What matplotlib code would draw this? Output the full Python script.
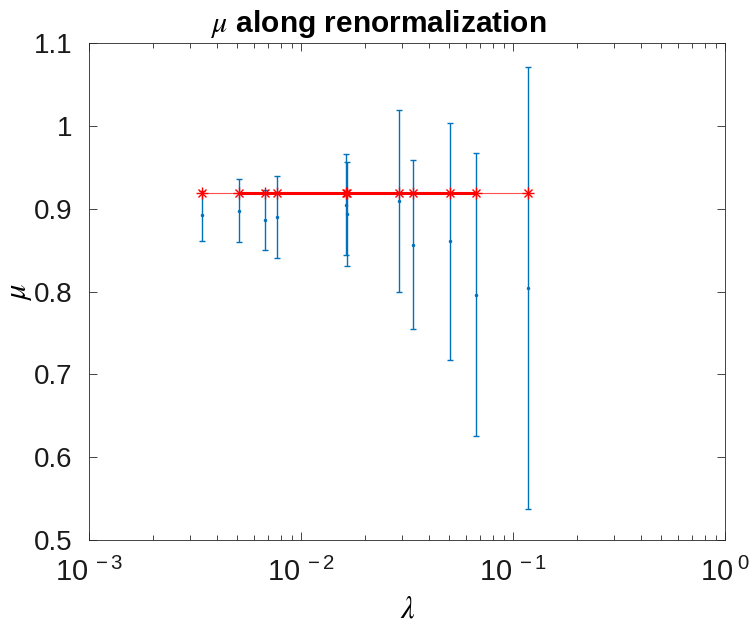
import matplotlib.pyplot as plt
import numpy as np
from matplotlib.ticker import FuncFormatter, LogLocator, NullFormatter

plt.rcParams['font.family'] = ['Liberation Sans', 'DejaVu Sans']
plt.rcParams['mathtext.fontset'] = 'stix'

# data
lam = [0.00341, 0.00510, 0.00674, 0.00771, 0.01620, 0.01643,
       0.0289, 0.0336, 0.0504, 0.0665, 0.1178]
mu_mean = [0.892, 0.898, 0.886, 0.890, 0.905, 0.894,
           0.910, 0.856, 0.861, 0.796, 0.805]
mu_low = [0.861, 0.860, 0.850, 0.841, 0.844, 0.831,
          0.800, 0.755, 0.718, 0.626, 0.538]
mu_high = [0.921, 0.936, 0.923, 0.940, 0.966, 0.957,
           1.019, 0.959, 1.004, 0.967, 1.071]
mu_ref = [0.919] * len(lam)

lam = np.array(lam)
mean = np.array(mu_mean)
err = [mean - np.array(mu_low), np.array(mu_high) - mean]


def xfmt(v, p):
    e = int(round(np.log10(v)))
    return r'$\mathregular{10^{\ %d}}$' % e


fig = plt.figure(figsize=(7.51, 6.27), dpi=100)
ax = fig.add_axes([0.1189, 0.1388, 0.8469, 0.7921])

ax.errorbar(lam, mean, yerr=err, fmt='.', color='#0072BD', ecolor='#0072BD',
            elinewidth=1.0, capsize=2.5, capthick=1.0, markersize=3)

ax.plot(lam, mu_ref, '-', color='#ff5050', lw=0.8)
ax.plot(lam[1:10], mu_ref[1:10], '-', color='red', lw=2.2)
# matlab style asterisk: plus and cross on top of each other
ax.plot(lam, mu_ref, '+', color='red', markersize=8, markeredgewidth=1.0)
ax.plot(lam, mu_ref, 'x', color='red', markersize=6, markeredgewidth=1.0)

ax.set_xscale('log')
ax.set_xlim(1e-3, 1e0)
ax.set_ylim(0.5, 1.1)
ax.set_yticks(np.arange(0.5, 1.11, 0.1))
ax.yaxis.set_major_formatter(FuncFormatter(lambda v, p: '%g' % round(v, 2)))
ax.xaxis.set_major_locator(LogLocator(base=10, numticks=10))
ax.xaxis.set_major_formatter(FuncFormatter(xfmt))
ax.xaxis.set_minor_locator(LogLocator(base=10, subs=np.arange(2, 10), numticks=10))
ax.xaxis.set_minor_formatter(NullFormatter())

ax.tick_params(which='both', direction='in', top=True, right=True,
               colors='#262626', labelcolor='#1a1a1a', labelsize=20, width=0.6)
ax.tick_params(which='major', length=6)
ax.tick_params(which='minor', length=3.5)
ax.tick_params(axis='x', pad=13, labelsize=21)
ax.tick_params(axis='y', pad=12)
for s in ax.spines.values():
    s.set_color('#262626')
    s.set_linewidth(0.6)

ax.set_xlabel(r'$\lambda$', fontsize=22, labelpad=5)
ax.set_ylabel(r'$\mu$', fontsize=22, labelpad=0)
ax.set_title(r'$\mu$ along renormalization', fontsize=21.5, fontweight='bold',
             pad=8, x=0.455)

fig.savefig('out.png', dpi=100)
